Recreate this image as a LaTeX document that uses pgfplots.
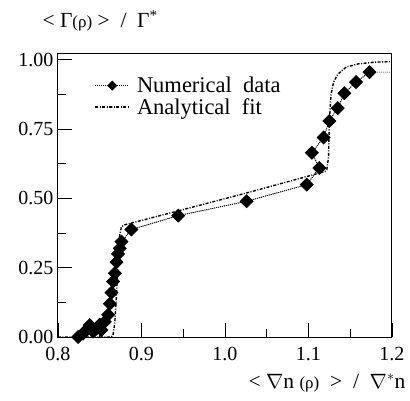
\documentclass[border=0pt]{standalone}
\usepackage{fontspec}
\setmainfont{Liberation Serif}
\usepackage{pgfplots}
\pgfplotsset{compat=1.18}
\begin{document}
\begin{tikzpicture}
\begin{axis}[
  name=ax,
  scale only axis,
  width=334pt, height=284pt,
  xmin=0.8, xmax=1.2, ymin=0, ymax=1.025,
  xtick={0.8,0.9,1.0,1.1,1.2},
  minor xtick={0.85,0.95,1.05,1.15},
  ytick={0,0.25,0.5,0.75,1},
  minor ytick={0.125,0.375,0.625,0.875},
  tick pos=left,
  tick align=inside,
  major tick length=14pt,
  minor tick length=8pt,
  every tick/.style={black, line width=0.9pt},
  axis line style={line width=1pt},
  font=\fontsize{20}{24}\selectfont,
  /pgf/number format/assume math mode=true,
  xticklabel style={yshift=-7pt, /pgf/number format/.cd, fixed, fixed zerofill, precision=1},
  yticklabel style={xshift=-1pt, /pgf/number format/.cd, fixed, fixed zerofill, precision=2},
  legend style={draw=none, fill=none, at={(0.1,0.93)}, anchor=north west,
    font=\fontsize{22.5}{24}\selectfont, row sep=0pt, column sep=5pt},
  legend cell align=left,
  legend image code/.code={\draw[mark repeat=2, mark phase=2, #1] plot coordinates {(0pt,0pt) (17pt,0pt) (34pt,0pt)};},
]
\addplot[black, line width=0.7pt, dash pattern=on 1pt off 1pt, forget plot] coordinates {
(0.824,0.0)(0.830,0.012)(0.834,0.025)(0.838,0.043)(0.842,0.02)(0.846,0.03)
(0.850,0.045)(0.852,0.025)(0.856,0.055)(0.860,0.08)(0.862,0.12)(0.864,0.16)
(0.866,0.20)(0.868,0.23)(0.870,0.27)(0.872,0.30)(0.874,0.32)(0.876,0.344)
(0.888,0.388)(0.944,0.438)(1.026,0.49)(1.098,0.55)(1.113,0.61)(1.104,0.665)
(1.118,0.72)(1.125,0.78)(1.135,0.826)(1.143,0.88)(1.157,0.92)(1.173,0.956)(1.2,0.956)
};
\addplot[black, line width=0.7pt, dash pattern=on 1pt off 1pt,
  mark=square*, mark size=4.6pt, mark options={solid, rotate=45, fill=black},
  legend image post style={mark size=3.2pt}] coordinates {
(0.824,0.0)(0.830,0.012)(0.834,0.025)(0.838,0.043)(0.842,0.02)(0.846,0.03)
(0.850,0.045)(0.852,0.025)(0.856,0.055)(0.860,0.08)(0.862,0.12)(0.864,0.16)
(0.866,0.20)(0.868,0.23)(0.870,0.27)(0.872,0.30)(0.874,0.32)(0.876,0.344)
(0.888,0.388)(0.944,0.438)(1.026,0.49)(1.098,0.55)(1.113,0.61)(1.104,0.665)
(1.118,0.72)(1.125,0.78)(1.135,0.826)(1.143,0.88)(1.157,0.92)(1.173,0.956)
};
\addlegendentry{Numerical\ \ data}
\addplot[black, line width=1.4pt, dash pattern=on 3pt off 1.5pt on 1pt off 1.5pt] coordinates {
(0.8,0)(0.864,0)(0.866,0.01)(0.868,0.05)(0.870,0.15)(0.872,0.28)(0.874,0.37)
(0.876,0.398)(0.880,0.405)(0.94,0.452)(1.026,0.52)(1.105,0.585)(1.120,0.598)
(1.122,0.605)(1.124,0.65)(1.125,0.78)(1.127,0.875)(1.130,0.92)(1.135,0.948)
(1.145,0.974)(1.160,0.986)(1.180,0.992)(1.2,0.994)
};
\addlegendentry{Analytical\ \ fit}
\end{axis}
\node[anchor=west, font=\fontsize{21.5}{24}\selectfont] at ([xshift=-19pt,yshift=32pt]ax.north west)
  {<~Γ{\fontsize{17}{18}\selectfont(ρ)}~>~~/~~Γ\textsuperscript{*}};
\node[anchor=east, font=\fontsize{21.5}{24}\selectfont] at ([xshift=17pt,yshift=-46pt]ax.south east)
  {<~$\nabla$n~{\fontsize{17}{18}\selectfont(ρ)}~~>~~/~~$\nabla^{*}$n};
\useasboundingbox ([xshift=-58pt,yshift=-63pt]ax.south west) rectangle ++(410pt,400pt);
\end{tikzpicture}
\end{document}
